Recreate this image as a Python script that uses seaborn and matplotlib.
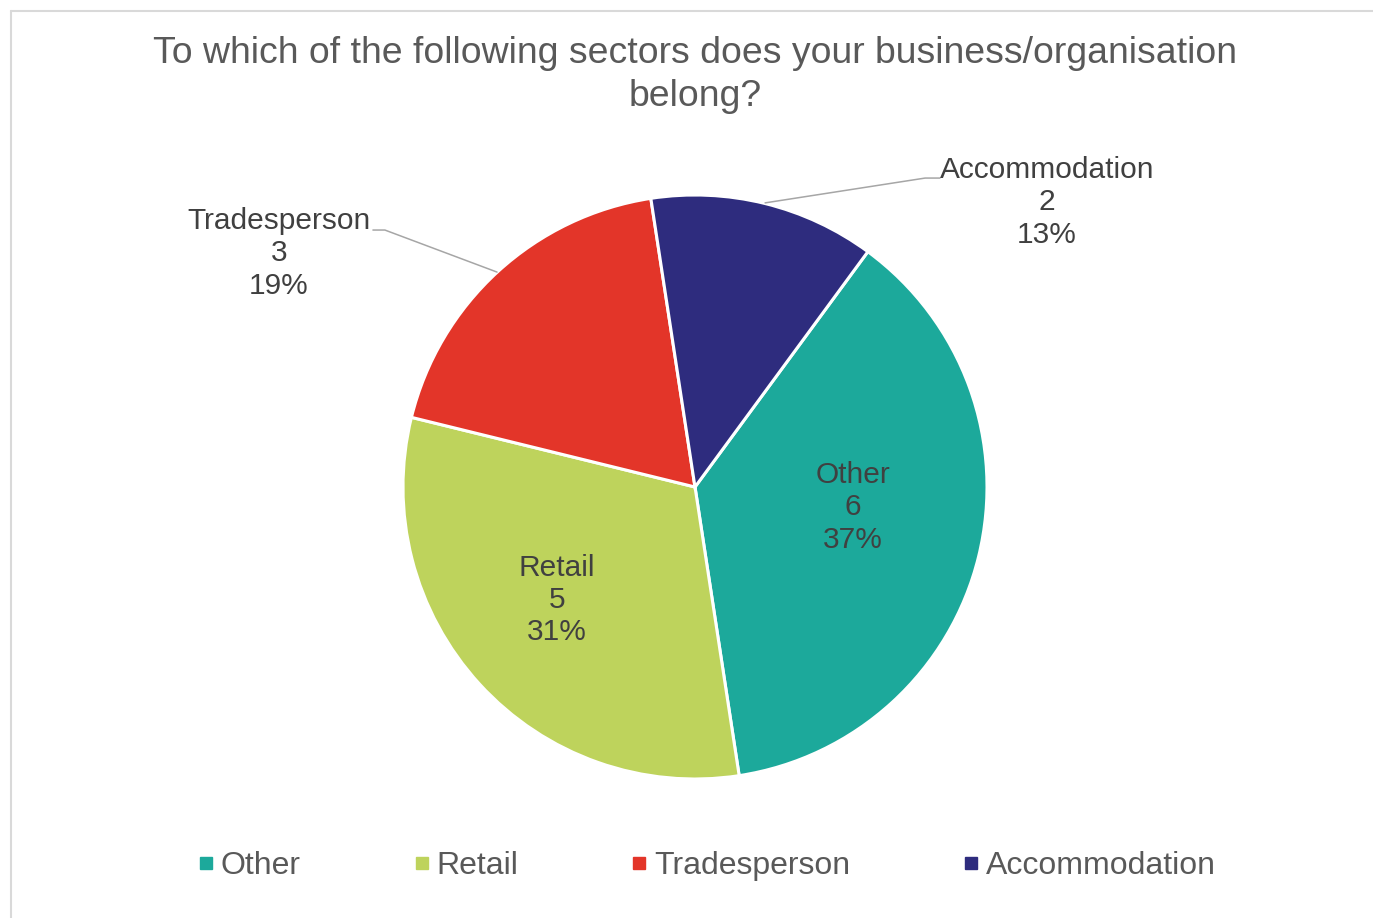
import matplotlib
matplotlib.use("Agg")
import matplotlib.pyplot as plt
import seaborn as sns
from matplotlib.lines import Line2D

sectors = ["Other", "Retail", "Tradesperson", "Accommodation"]
counts = [6, 5, 3, 2]
pct_labels = ["37%", "31%", "19%", "13%"]
colors = ["#1CA99B", "#BED35C", "#E33529", "#2E2C7E"]

sns.set_theme(style="white")
plt.rcParams["font.family"] = ["Liberation Sans", "DejaVu Sans"]

W, H = 1373, 918
fig = plt.figure(figsize=(W / 100, H / 100), dpi=100)

# pie centre and radius in pixels
cx, cy, r = 695, 487, 292
ax = fig.add_axes([(cx - r) / W, (H - cy - r) / H, 2 * r / W, 2 * r / H])
wedges, _ = ax.pie(counts, colors=colors, startangle=53.7, counterclock=False,
                   radius=1, wedgeprops=dict(edgecolor="white", linewidth=2.2))
ax.set_xlim(-1, 1)
ax.set_ylim(-1, 1)
ax.set_aspect("equal")
ax.axis("off")

# data label positions (data coords, radius = 1)
label_pos = [(0.541, -0.07), (-0.473, -0.387), (-1.425, 0.80), (1.205, 0.975)]
for name, c, p, (x, y) in zip(sectors, counts, pct_labels, label_pos):
    ax.text(x, y, f"{name}\n{c}\n{p}", ha="center", va="center", fontsize=21.5,
            color="#404040", linespacing=1.2)

# leader lines
ax.plot([-1.103, -1.062, -0.678], [0.880, 0.880, 0.736], color="#A6A6A6",
        lw=1.1, clip_on=False)
ax.plot([0.240, 0.788, 0.839], [0.973, 1.058, 1.058], color="#A6A6A6",
        lw=1.1, clip_on=False)

fig.text(695 / W, 1 - 75 / H,
         "To which of the following sectors does your business/organisation\nbelong?",
         ha="center", va="center", fontsize=26.9, color="#595959", linespacing=1.28)

handles = [Line2D([], [], marker="s", linestyle="none", markersize=8,
                  markerfacecolor=c, markeredgecolor=c) for c in colors]
fig.legend(handles, sectors, loc="center", bbox_to_anchor=(708 / W, 1 - 866 / H),
           ncol=4, frameon=False, fontsize=23, labelcolor="#595959",
           handlelength=0.35, handletextpad=0.28, columnspacing=3.62)

# chart border (left and top edges visible)
fig.add_artist(Line2D([10.5 / W, 10.5 / W], [0, 1 - 10.5 / H], color="#D9D9D9", lw=1.5))
fig.add_artist(Line2D([10.5 / W, 1], [1 - 10.5 / H, 1 - 10.5 / H], color="#D9D9D9", lw=1.5))

fig.savefig("out.png", dpi=100, facecolor="white")
